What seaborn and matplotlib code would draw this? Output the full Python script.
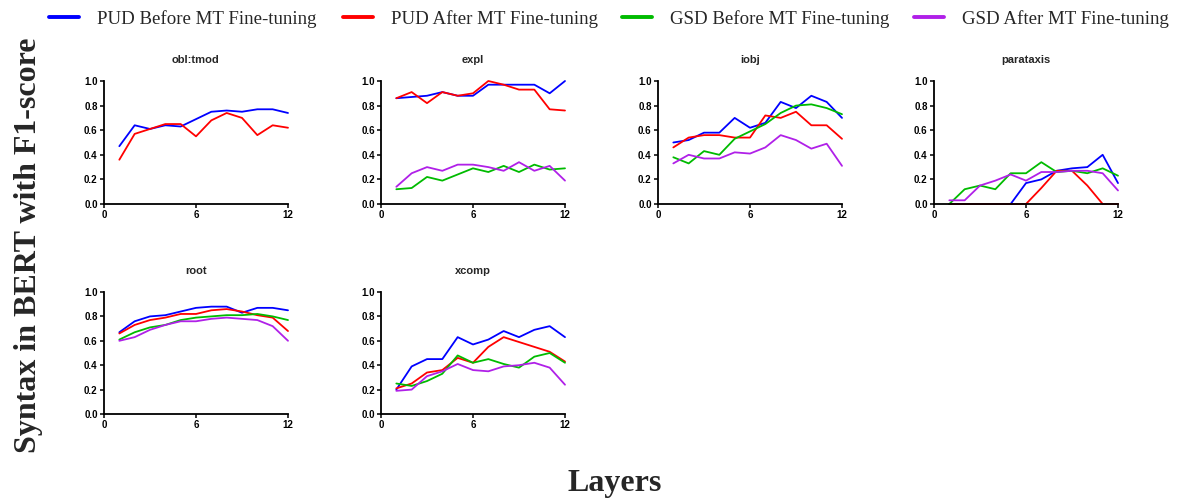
import numpy as np
import pandas as pd
import matplotlib
matplotlib.use("Agg")
import matplotlib.pyplot as plt
import seaborn as sns
from matplotlib.lines import Line2D

layers = list(range(1, 13))
series_names = ["PUD Before MT Fine-tuning", "PUD After MT Fine-tuning",
                "GSD Before MT Fine-tuning", "GSD After MT Fine-tuning"]
panel_titles = ["obl:tmod", "expl", "iobj", "parataxis", "root", "xcomp"]

obl_tmod_pud_before = [0.47, 0.64, 0.61, 0.64, 0.63, 0.69, 0.75, 0.76, 0.75, 0.77, 0.77, 0.74]
obl_tmod_pud_after = [0.36, 0.57, 0.61, 0.65, 0.65, 0.55, 0.68, 0.74, 0.70, 0.56, 0.64, 0.62]

expl_pud_before = [0.86, 0.87, 0.88, 0.91, 0.88, 0.88, 0.97, 0.97, 0.97, 0.97, 0.90, 1.00]
expl_pud_after = [0.86, 0.91, 0.82, 0.91, 0.88, 0.90, 1.00, 0.97, 0.93, 0.93, 0.77, 0.76]
expl_gsd_before = [0.12, 0.13, 0.22, 0.19, 0.24, 0.29, 0.26, 0.31, 0.26, 0.32, 0.28, 0.29]
expl_gsd_after = [0.14, 0.25, 0.30, 0.27, 0.32, 0.32, 0.30, 0.27, 0.34, 0.27, 0.31, 0.19]

iobj_pud_before = [0.50, 0.52, 0.58, 0.58, 0.70, 0.62, 0.66, 0.83, 0.78, 0.88, 0.83, 0.70]
iobj_pud_after = [0.46, 0.54, 0.56, 0.56, 0.54, 0.54, 0.72, 0.70, 0.75, 0.64, 0.64, 0.53]
iobj_gsd_before = [0.38, 0.33, 0.43, 0.40, 0.53, 0.59, 0.65, 0.74, 0.80, 0.81, 0.78, 0.73]
iobj_gsd_after = [0.33, 0.40, 0.37, 0.37, 0.42, 0.41, 0.46, 0.56, 0.52, 0.45, 0.49, 0.31]

parataxis_pud_before = [0.0, 0.0, 0.0, 0.0, 0.0, 0.17, 0.20, 0.27, 0.29, 0.30, 0.40, 0.17]
parataxis_pud_after = [0.0, 0.0, 0.0, 0.0, 0.0, 0.0, 0.13, 0.27, 0.27, 0.15, 0.0, 0.0]
parataxis_gsd_before = [0.0, 0.12, 0.15, 0.12, 0.25, 0.25, 0.34, 0.26, 0.27, 0.25, 0.29, 0.23]
parataxis_gsd_after = [0.03, 0.03, 0.15, 0.19, 0.24, 0.19, 0.26, 0.26, 0.27, 0.27, 0.25, 0.11]

root_pud_before = [0.67, 0.76, 0.80, 0.81, 0.84, 0.87, 0.88, 0.88, 0.83, 0.87, 0.87, 0.85]
root_pud_after = [0.66, 0.73, 0.77, 0.79, 0.82, 0.82, 0.85, 0.86, 0.84, 0.81, 0.79, 0.68]
root_gsd_before = [0.61, 0.67, 0.71, 0.73, 0.77, 0.79, 0.80, 0.81, 0.81, 0.82, 0.80, 0.77]
root_gsd_after = [0.60, 0.63, 0.69, 0.73, 0.76, 0.76, 0.78, 0.79, 0.78, 0.77, 0.72, 0.60]

xcomp_pud_before = [0.20, 0.39, 0.45, 0.45, 0.63, 0.57, 0.61, 0.68, 0.63, 0.69, 0.72, 0.63]
xcomp_pud_after = [0.21, 0.25, 0.34, 0.36, 0.46, 0.42, 0.55, 0.63, 0.59, 0.55, 0.51, 0.43]
xcomp_gsd_before = [0.25, 0.23, 0.27, 0.33, 0.48, 0.42, 0.45, 0.41, 0.38, 0.47, 0.50, 0.42]
xcomp_gsd_after = [0.19, 0.20, 0.31, 0.35, 0.41, 0.36, 0.35, 0.39, 0.40, 0.42, 0.38, 0.24]

panel_data = {
    "obl:tmod": [obl_tmod_pud_before, obl_tmod_pud_after],
    "expl": [expl_pud_before, expl_pud_after, expl_gsd_before, expl_gsd_after],
    "iobj": [iobj_pud_before, iobj_pud_after, iobj_gsd_before, iobj_gsd_after],
    "parataxis": [parataxis_pud_before, parataxis_pud_after, parataxis_gsd_before, parataxis_gsd_after],
    "root": [root_pud_before, root_pud_after, root_gsd_before, root_gsd_after],
    "xcomp": [xcomp_pud_before, xcomp_pud_after, xcomp_gsd_before, xcomp_gsd_after],
}

colors = ["#0000FF", "#FF0000", "#00BB00", "#B020E8"]
palette = dict(zip(series_names, colors))

sns.set_style("white")
plt.rcParams["font.family"] = ["Liberation Sans", "DejaVu Sans"]

W, H = 1180, 504
fig = plt.figure(figsize=(W / 100, H / 100), dpi=100)

col_left = [104, 381, 658, 934]
ax_w = 184
rows = [(81, 204), (292, 414)]

for i, title in enumerate(panel_titles):
    r, c = divmod(i, 4)
    top, bot = rows[r]
    left = col_left[c]
    ax = fig.add_axes([left / W, (H - bot) / H, ax_w / W, (bot - top) / H])
    rows_df = []
    for name, vals in zip(series_names, panel_data[title]):
        for l, v in zip(layers, vals):
            rows_df.append({"Layer": l, "F1": v, "Series": name})
    df = pd.DataFrame(rows_df)
    sns.lineplot(data=df, x="Layer", y="F1", hue="Series", palette=palette,
                 hue_order=[s for s in series_names if s in df["Series"].unique()],
                 ax=ax, linewidth=1.3, legend=False, clip_on=False)
    ax.set_xlim(0, 12)
    ax.set_ylim(0, 1.0)
    ax.set_xticks([0, 6, 12])
    ax.set_yticks([0, 0.2, 0.4, 0.6, 0.8, 1.0])
    ax.set_yticklabels(["0.0", "0.2", "0.4", "0.6", "0.8", "1.0"])
    ax.set_xlabel("")
    ax.set_ylabel("")
    ax.set_title(title, fontsize=8, fontweight="bold", pad=13)
    sns.despine(ax=ax)
    for s in ["left", "bottom"]:
        ax.spines[s].set_color("black")
        ax.spines[s].set_linewidth(1.3)
    ax.tick_params(axis="both", direction="out", length=3, width=1.1,
                   labelsize=7, pad=1.5, colors="black",
                   bottom=True, left=True)
    for lab in ax.get_xticklabels() + ax.get_yticklabels():
        lab.set_fontweight("bold")

# legend entries placed individually along the top
handle_x = [49, 343, 622, 914]
for hx, name, col in zip(handle_x, series_names, colors):
    leg = fig.legend([Line2D([], [], color=col, linewidth=2.8)], [name],
                     loc="center left", bbox_to_anchor=(hx / W, 1 - 19 / H),
                     frameon=False, prop={"family": "Liberation Serif", "size": 13.6},
                     handlelength=1.6, handletextpad=0.95, borderpad=0, borderaxespad=0)

fig.text(29 / W, 1 - 245 / H, "Syntax in BERT with F1-score", rotation=90, ha="center", va="center",
         family="Liberation Serif", fontweight="bold", fontsize=23)
fig.text(615 / W, (H - 484) / H, "Layers", ha="center", va="center",
         family="Liberation Serif", fontweight="bold", fontsize=23)

fig.savefig("out.png", dpi=100)
